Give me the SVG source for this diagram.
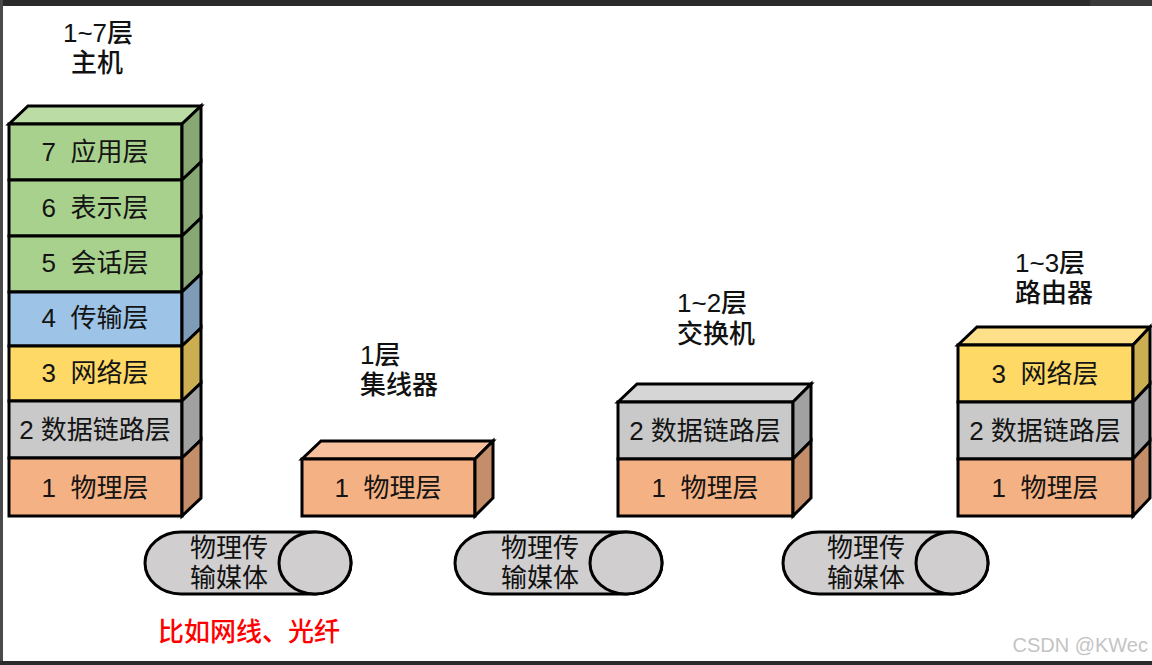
<svg xmlns="http://www.w3.org/2000/svg" width="1152" height="665" viewBox="0 0 1152 665">
<style>
  text { font-family: "Liberation Sans", "Noto Sans CJK SC", sans-serif; white-space: pre; }
  .lt { font-size: 26px; fill: #141414; text-anchor: middle; }
  .lbl { font-size: 26px; font-weight: 500; fill: #111; }
  .cyt { font-size: 26px; fill: #111; text-anchor: middle; }
  .e { stroke: #000; stroke-width: 3; stroke-linejoin: miter; }
  .gF { fill: #a9d18e; } .gT { fill: #bcdca6; } .gS { fill: #87a872; }
  .bF { fill: #9dc3e6; } .bS { fill: #7e9cb8; }
  .yF { fill: #ffd966; } .yT { fill: #ffe08a; } .yS { fill: #ccae52; }
  .sF { fill: #c9c9c9; } .sT { fill: #d6d6d6; } .sS { fill: #a1a1a1; }
  .oF { fill: #f4b183; } .oT { fill: #f6c19c; } .oS { fill: #c38e69; }
  .cyl { fill: #d0cece; stroke: #000; stroke-width: 3; }
</style>
<rect x="0" y="0" width="1152" height="665" fill="#ffffff"/>
<!-- frame -->
<rect x="0" y="0" width="1152" height="6" fill="#2b2b2b"/>
<rect x="1090" y="0" width="62" height="6" fill="#3a3a3a"/>
<rect x="0" y="0" width="3" height="665" fill="#4a4a4a"/>
<rect x="0" y="661" width="1152" height="4" fill="#2b2b2b"/>

<!-- Host: layers 1-7 -->
<g id="host">
  <text class="lbl" x="98" y="42" text-anchor="middle">1~7层</text>
  <text class="lbl" x="97" y="72" text-anchor="middle">主机</text>
  <polygon class="e gT" points="9,124 28,106 201,106 182,124"/>
  <!-- 7 -->
  <rect class="e gF" x="9" y="124" width="173" height="56"/>
  <polygon class="e gS" points="182,124 201,106 201,162 182,180"/>
  <text class="lt" x="95" y="161">7  应用层</text>
  <!-- 6 -->
  <rect class="e gF" x="9" y="180" width="173" height="56"/>
  <polygon class="e gS" points="182,180 201,162 201,218 182,236"/>
  <text class="lt" x="95" y="217">6  表示层</text>
  <!-- 5 -->
  <rect class="e gF" x="9" y="236" width="173" height="56"/>
  <polygon class="e gS" points="182,236 201,218 201,274 182,292"/>
  <text class="lt" x="95" y="272">5  会话层</text>
  <!-- 4 -->
  <rect class="e bF" x="9" y="292" width="173" height="54"/>
  <polygon class="e bS" points="182,292 201,274 201,328 182,346"/>
  <text class="lt" x="95" y="327">4  传输层</text>
  <!-- 3 -->
  <rect class="e yF" x="9" y="346" width="173" height="55"/>
  <polygon class="e yS" points="182,346 201,328 201,383 182,401"/>
  <text class="lt" x="95" y="382">3  网络层</text>
  <!-- 2 -->
  <rect class="e sF" x="9" y="401" width="173" height="57"/>
  <polygon class="e sS" points="182,401 201,383 201,440 182,458"/>
  <text class="lt" x="95" y="439">2 数据链路层</text>
  <!-- 1 -->
  <rect class="e oF" x="9" y="458" width="173" height="58"/>
  <polygon class="e oS" points="182,458 201,440 201,498 182,516"/>
  <text class="lt" x="95" y="497">1  物理层</text>
</g>

<!-- Hub: layer 1 -->
<g id="hub">
  <text class="lbl" x="360" y="364">1层</text>
  <text class="lbl" x="360" y="394">集线器</text>
  <polygon class="e oT" points="302,459 321,441 493,441 475,459"/>
  <rect class="e oF" x="302" y="459" width="173" height="57"/>
  <polygon class="e oS" points="475,459 493,441 493,498 475,516"/>
  <text class="lt" x="388" y="497">1  物理层</text>
</g>

<!-- Switch: layers 1-2 -->
<g id="switch">
  <text class="lbl" x="677" y="312">1~2层</text>
  <text class="lbl" x="677" y="343">交换机</text>
  <polygon class="e sT" points="618,402 637,384 811,384 793,402"/>
  <rect class="e sF" x="618" y="402" width="175" height="57"/>
  <polygon class="e sS" points="793,402 811,384 811,441 793,459"/>
  <text class="lt" x="705" y="440">2 数据链路层</text>
  <rect class="e oF" x="618" y="459" width="175" height="57"/>
  <polygon class="e oS" points="793,459 811,441 811,498 793,516"/>
  <text class="lt" x="705" y="497">1  物理层</text>
</g>

<!-- Router: layers 1-3 -->
<g id="router">
  <text class="lbl" x="1015" y="272">1~3层</text>
  <text class="lbl" x="1015" y="302">路由器</text>
  <polygon class="e yT" points="958,345 977,327 1150,327 1133,345"/>
  <rect class="e yF" x="958" y="345" width="175" height="57"/>
  <polygon class="e yS" points="1133,345 1150,327 1150,384 1133,402"/>
  <text class="lt" x="1045" y="383">3  网络层</text>
  <rect class="e sF" x="958" y="402" width="175" height="57"/>
  <polygon class="e sS" points="1133,402 1150,384 1150,441 1133,459"/>
  <text class="lt" x="1045" y="440">2 数据链路层</text>
  <rect class="e oF" x="958" y="459" width="175" height="57"/>
  <polygon class="e oS" points="1133,459 1150,441 1150,498 1133,516"/>
  <text class="lt" x="1045" y="497">1  物理层</text>
</g>

<!-- Media cylinders -->
<g id="medium1">
  <path class="cyl" d="M181,532 L315,532 A36,31 0 0 1 315,594 L181,594 A36,31 0 0 1 181,532 Z"/>
  <ellipse class="cyl" cx="315" cy="563" rx="36" ry="31"/>
  <text class="cyt" x="229" y="557">物理传</text>
  <text class="cyt" x="229" y="587">输媒体</text>
</g>
<g id="medium2">
  <path class="cyl" d="M491,532 L626,532 A36,31 0 0 1 626,594 L491,594 A36,31 0 0 1 491,532 Z"/>
  <ellipse class="cyl" cx="626" cy="563" rx="36" ry="31"/>
  <text class="cyt" x="540" y="557">物理传</text>
  <text class="cyt" x="540" y="587">输媒体</text>
</g>
<g id="medium3">
  <path class="cyl" d="M819,532 L952,532 A36,31 0 0 1 952,594 L819,594 A36,31 0 0 1 819,532 Z"/>
  <ellipse class="cyl" cx="952" cy="563" rx="36" ry="31"/>
  <text class="cyt" x="866" y="557">物理传</text>
  <text class="cyt" x="866" y="587">输媒体</text>
</g>

<g id="note">
  <text x="158" y="641" font-size="26" font-weight="500" fill="#ff0000">比如网线、光纤</text>
</g>

<g id="connectors"></g>

<text x="1148" y="652" font-size="20" fill="#c4c4c4" text-anchor="end">CSDN @KWec</text>
</svg>
